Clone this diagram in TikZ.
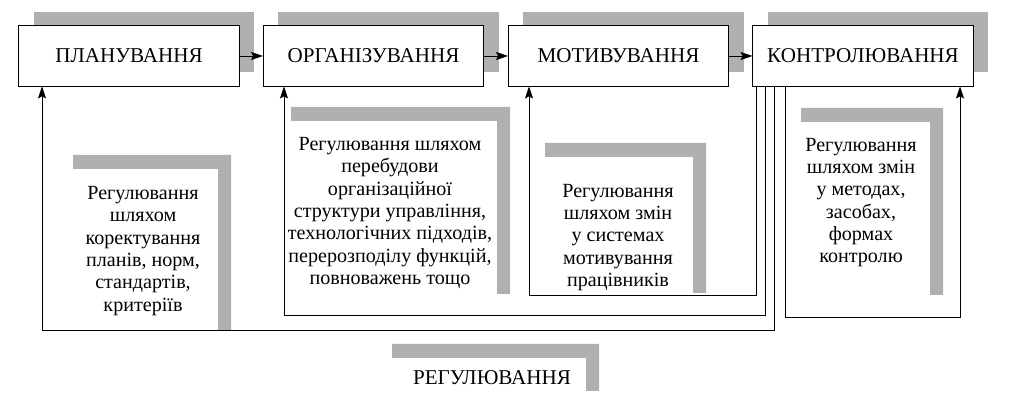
\documentclass[tikz,border=0pt]{standalone}
\usepackage{fontspec}
\setmainfont{Liberation Serif}
\usetikzlibrary{arrows.meta,shadows}
\definecolor{bandgray}{RGB}{176,176,176}

\begin{document}
\begin{tikzpicture}[
  x=0.025cm, y=-0.025cm,
  every node/.style={font=\fontsize{14.3}{15.9}\selectfont},
  stage/.style={draw, fill=white, line width=0.7pt, inner sep=0pt,
    minimum width=5.5cm, minimum height=1.5cm,
    font=\fontsize{15}{18}\selectfont,
    general shadow={shadow xshift=0.375cm, shadow yshift=0.35cm,
      fill=bandgray, draw=none}},
  note/.style={align=center, inner sep=0pt},
  band/.style={fill=bandgray},
  arr/.style={-{Stealth[length=8.5pt, width=5.7pt, inset=1.5pt]}, line width=0.6pt},
]
\useasboundingbox (0,0) rectangle (1012,405);

% ── gray corner bands behind the notes
\foreach \xa/\ya/\xb/\yb in {73/155/231/330, 291/107/510/294,
    545/143/706/293, 801/108/943/295, 392/344/599/391}
  \fill[band] (\xa,\ya) -| (\xb,\yb) -- ++(-13,0) |- (\xa,{\ya+14}) -- cycle;

% ── ROW 0 ── management functions
\node[stage] at (129.0, 56) (plan) {ПЛАНУВАННЯ};
\node[stage] at (373.5, 56) (org)  {ОРГАНІЗУВАННЯ};
\node[stage] at (618.5, 56) (mot)  {МОТИВУВАННЯ};
\node[stage] at (863.0, 56) (kont) {КОНТРОЛЮВАННЯ};

% ── ROW 1 ── regulation notes
\node[note] at (143, 251)   (reg1) {Регулювання\\шляхом\\коректування\\планів, норм,\\стандартів,\\критеріїв};
\node[note] at (390, 213)   (reg2) {Регулювання шляхом\\перебудови\\організаційної\\структури управління,\\технологічних підходів,\\перерозподілу функцій,\\повноважень тощо};
\node[note] at (618, 237.5) (reg3) {Регулювання\\шляхом змін\\у системах\\мотивування\\працівників};
\node[note] at (861, 202.5) (reg4) {Регулювання\\шляхом змін\\у методах,\\засобах,\\формах\\контролю};

% ── ROW 2 ── caption
\node[note, font=\fontsize{15}{18}\selectfont] at (492, 378) (regul) {РЕГУЛЮВАННЯ};

% ── corners of the feedback loops
\coordinate (m1) at (756, 295); \coordinate (m2) at (529, 295);
\coordinate (o1) at (765, 315); \coordinate (o2) at (284, 315);
\coordinate (p1) at (774, 330); \coordinate (p2) at (42, 330);
\coordinate (k1) at (785, 317); \coordinate (k2) at (960, 317);

% Row 0 — horizontales
\draw[arr] (plan.east) -- (org.west);
\draw[arr] (org.east)  -- (mot.west);
\draw[arr] (mot.east)  -- (kont.west);

% kont → back to every function
\draw[arr] (kont.south -| m1) -- (m1) -- (m2) -- (m2 |- mot.south);
\draw[arr] (kont.south -| o1) -- (o1) -- (o2) -- (o2 |- org.south);
\draw[arr] (kont.south -| p1) -- (p1) -- (p2) -- (p2 |- plan.south);
\draw[arr] (kont.south -| k1) -- (k1) -- (k2) -- (k2 |- kont.south);

\end{tikzpicture}
\end{document}
